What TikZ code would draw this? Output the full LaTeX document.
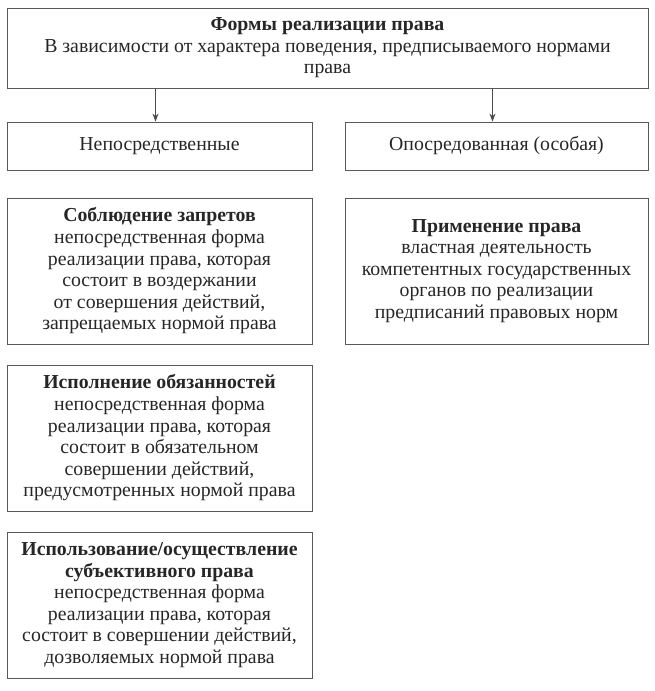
\documentclass[tikz,border=0pt]{standalone}
\usepackage{fontspec}
\setmainfont{Liberation Serif}
\usetikzlibrary{arrows.meta}
\begin{document}
\begin{tikzpicture}[x=1pt,y=1pt,
	every node/.style={draw=black!65,line width=0.8pt,align=center,inner sep=0,
		text=black!85,font=\fontsize{19.8}{21.6}\selectfont},
	box/.style={minimum width=305pt,minimum height=146pt},
	sidebox/.style={minimum width=303pt,minimum height=146pt},
	arr/.style={draw=black!70,line width=0.8pt,-{Stealth[length=8pt,width=6pt]}}]
\useasboundingbox (0,0) rectangle (655,691);
\node[minimum width=641pt,minimum height=80pt] (forms) at (327.5,643)
	{\textbf{Формы реализации права}\\
	В зависимости от характера поведения, предписываемого нормами\\
	права};
\node[minimum width=305pt,minimum height=48pt] (direct) at (159.5,545) {Непосредственные};
\node[minimum width=303pt,minimum height=48pt] (mediated) at (496.5,545) {Опосредованная (особая)};
\node[box] (observe) at (159.5,420)
	{\textbf{Соблюдение запретов}\\
	непосредственная форма\\
	реализации права, которая\\
	состоит в воздержании\\
	от совершения действий,\\
	запрещаемых нормой права};
\node[sidebox] (apply) at (496.5,420)
	{\textbf{Применение права}\\
	властная деятельность\\
	компетентных государственных\\
	органов по реализации\\
	предписаний правовых норм};
\node[box] (execute) at (159.5,253)
	{\textbf{Исполнение обязанностей}\\
	непосредственная форма\\
	реализации права, которая\\
	состоит в обязательном\\
	совершении действий,\\
	предусмотренных нормой права};
\node[box] (use) at (159.5,86)
	{\textbf{Использование/осуществление}\\
	\textbf{субъективного права}\\
	непосредственная форма\\
	реализации права, которая\\
	состоит в совершении действий,\\
	дозволяемых нормой права};
% arrows
\draw[arr] ([xshift=-4pt]direct.north |- forms.south) -- ([xshift=-4pt]direct.north);
\draw[arr] ([xshift=-4pt]mediated.north |- forms.south) -- ([xshift=-4pt]mediated.north);
\end{tikzpicture}
\end{document}
